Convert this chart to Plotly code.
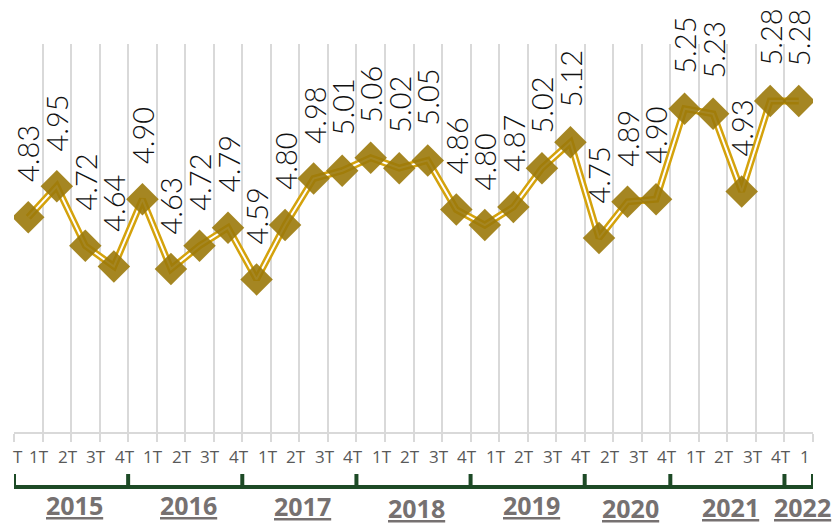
import plotly.graph_objects as go

# ---- data ----
years = ["2015", "2016", "2017", "2018", "2019", "2020", "2021", "2022"]
quarters_per_year = [4, 4, 4, 4, 4, 3, 4, 1]
quarter_labels = ["1T", "2T", "3T", "4T",
                  "1T", "2T", "3T", "4T",
                  "1T", "2T", "3T", "4T",
                  "1T", "2T", "3T", "4T",
                  "1T", "2T", "3T", "4T",
                  "2T", "3T", "4T",
                  "1T", "2T", "3T", "4T",
                  "1"]
values = [4.83, 4.95, 4.72, 4.64,
          4.90, 4.63, 4.72, 4.79,
          4.59, 4.80, 4.98, 5.01,
          5.06, 5.02, 5.05, 4.86,
          4.80, 4.87, 5.02, 5.12,
          4.75, 4.89, 4.90,
          5.25, 5.23, 4.93, 5.28,
          5.28]
# year label vertical pixel positions (center) below plot
year_label_px = [505, 505, 506, 508, 505, 508, 507, 507]

x = list(range(len(values)))
n = len(values)

PLOT_TOP, PLOT_BOTTOM = 44, 432
PH = PLOT_BOTTOM - PLOT_TOP


def py(px):
    return (PLOT_BOTTOM - px) / PH


fig = go.Figure()
# outer gold line
fig.add_trace(go.Scatter(x=x, y=values, mode="lines",
                         line=dict(color="#d4a20c", width=7),
                         hoverinfo="skip", showlegend=False))
# inner white line (double line effect)
fig.add_trace(go.Scatter(x=x, y=values, mode="lines",
                         line=dict(color="#ffffff", width=2),
                         hoverinfo="skip", showlegend=False))
# diamond markers
fig.add_trace(go.Scatter(x=x, y=values, mode="markers",
                         marker=dict(symbol="diamond", size=25,
                                     color="rgba(155,121,10,0.9)",
                                     line=dict(width=0)),
                         showlegend=False))

annotations = []
# rotated value labels
for xi, v in zip(x, values):
    annotations.append(dict(
        x=xi, y=v, xref="x", yref="y", text=f"{v:.2f}",
        textangle=-90, showarrow=False, xanchor="center", yanchor="bottom",
        yshift=33,
        font=dict(family="Lato", size=29, color="#111111", weight=300)))

tick_font = dict(family="Open Sans", size=17, color="#595959")
# quarter labels (left-aligned at category centres)
annotations.append(dict(x=-0.5, y=py(456), xref="x", yref="paper", text="T",
                        showarrow=False, xanchor="left", yanchor="middle",
                        xshift=-3, font=tick_font))
for xi, lab in zip(x, quarter_labels):
    annotations.append(dict(x=xi, y=py(456), xref="x", yref="paper", text=lab,
                            showarrow=False, xanchor="left", yanchor="middle",
                            xshift=-1, font=tick_font))

# year brackets
shapes = []
green = "#1d4a26"
bounds = [-0.5]
for q in quarters_per_year:
    bounds.append(bounds[-1] + q)
shapes.append(dict(type="line", xref="x", yref="paper",
                   x0=bounds[0] - 0.04, x1=bounds[-1] + 0.06,
                   y0=py(487), y1=py(487),
                   line=dict(color=green, width=4)))
for b in bounds:
    shapes.append(dict(type="line", xref="x", yref="paper", x0=b, x1=b,
                       y0=py(474), y1=py(487),
                       line=dict(color=green, width=4)))

for i, yr in enumerate(years):
    mid = (bounds[i] + bounds[i + 1]) / 2 + 0.12
    annotations.append(dict(x=mid, y=py(year_label_px[i]), xref="x",
                            yref="paper", text=f"<u>{yr}</u>",
                            showarrow=False, xanchor="center",
                            yanchor="middle",
                            font=dict(family="Open Sans", size=25,
                                      color="#767171", weight=700)))

fig.update_layout(
    width=840, height=525,
    margin=dict(l=14, r=27, t=PLOT_TOP, b=525 - PLOT_BOTTOM, pad=0),
    paper_bgcolor="white", plot_bgcolor="white",
    xaxis=dict(range=[-0.5, n - 0.5],
               tickmode="array", tickvals=[i - 0.5 for i in range(n + 1)],
               ticktext=["" for _ in range(n + 1)],
               showgrid=True, gridcolor="#d9d9d9", gridwidth=2,
               ticks="outside", ticklen=8, tickcolor="#d9d9d9", tickwidth=2,
               showline=True, linecolor="#d9d9d9", linewidth=2,
               zeroline=False, fixedrange=True),
    yaxis=dict(range=[4.0, 5.5], showgrid=False, showticklabels=False,
               zeroline=False, showline=False, ticks="", fixedrange=True),
    annotations=annotations, shapes=shapes,
    showlegend=False,
)

fig.write_html("out.html",
               config={"displayModeBar": False},
               post_script="document.body.style.margin='0';"
                           "document.body.style.overflow='hidden';")
